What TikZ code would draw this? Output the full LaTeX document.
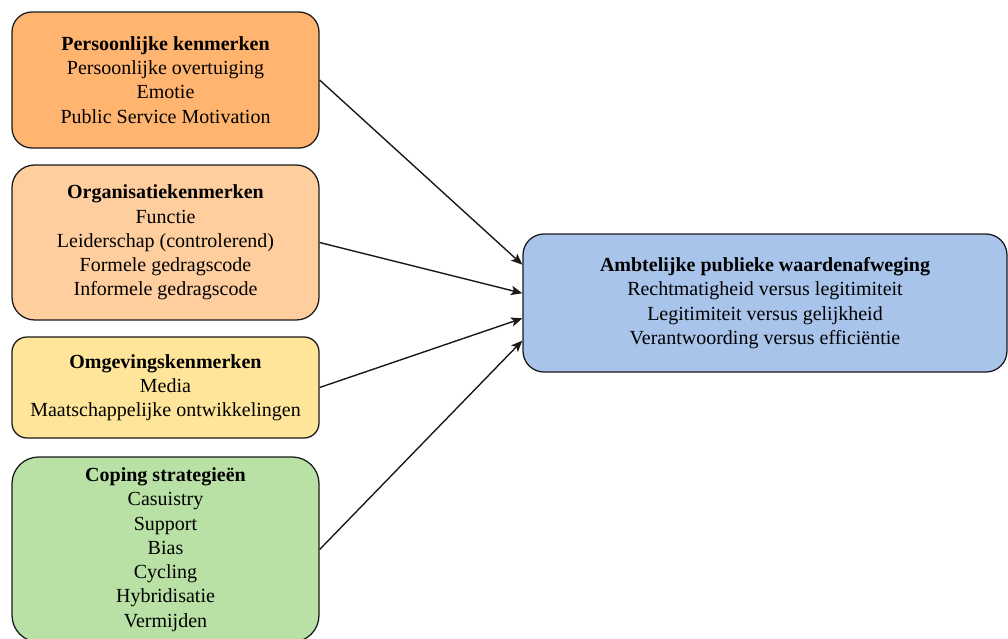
\documentclass[tikz,border=0pt]{standalone}
\usepackage{fontspec}
\setmainfont{Liberation Serif}
\usetikzlibrary{arrows.meta,calc}

\definecolor{persfill}{HTML}{FFB570}
\definecolor{orgfill}{HTML}{FFCE9F}
\definecolor{omgfill}{HTML}{FFE599}
\definecolor{copfill}{HTML}{B9E0A5}
\definecolor{ambfill}{HTML}{A9C4EB}
\definecolor{edge}{HTML}{1A1A1A}

\tikzset{
  factor/.style={draw=edge, line width=0.95pt, align=center, inner sep=0pt,
    minimum width=230.25pt, font=\fontsize{15}{18.2}\selectfont},
  link/.style={draw=edge, line width=1.05pt,
    -{Stealth[length=8.5pt, width=7pt, inset=2pt]}},
}

\begin{document}
\begin{tikzpicture}[x=0.75pt, y=-0.75pt]
\useasboundingbox (0,0) rectangle (1008,639);
\clip (0,0) rectangle (1008,639);

\node[factor, fill=persfill, minimum height=102pt, rounded corners=15pt]
  (pers) at (165.5,80)
  {\textbf{Persoonlijke kenmerken}\\Persoonlijke overtuiging\\Emotie\\Public Service Motivation};

\node[factor, fill=orgfill, minimum height=116.25pt, rounded corners=17pt]
  (org) at (165.5,242.5)
  {\textbf{Organisatiekenmerken}\\Functie\\Leiderschap (controlerend)\\Formele gedragscode\\Informele gedragscode};

\node[factor, fill=omgfill, minimum height=75.75pt, rounded corners=11.25pt]
  (omg) at (165.5,387.5)
  {\textbf{Omgevingskenmerken}\\Media\\Maatschappelijke ontwikkelingen};

\node[factor, fill=copfill, minimum height=138.75pt, rounded corners=20pt]
  (cop) at (165.5,549.5)
  {\textbf{Coping strategieën}\\Casuistry\\Support\\Bias\\Cycling\\Hybridisatie\\Vermijden};

\node[factor, fill=ambfill, minimum width=363pt, minimum height=103.5pt, rounded corners=15.75pt]
  (amb) at (765,303)
  {\textbf{Ambtelijke publieke waardenafweging}\\Rechtmatigheid versus legitimiteit\\Legitimiteit versus gelijkheid\\Verantwoording versus efficiëntie};

\draw[link] (pers.east) -- ($(amb.north west)!0.225!(amb.south west)$);
\draw[link] (org.east)  -- ($(amb.north west)!0.43!(amb.south west)$);
\draw[link] (omg.east)  -- ($(amb.north west)!0.61!(amb.south west)$);
\draw[link] (cop.east)  -- ($(amb.north west)!0.77!(amb.south west)$);
\end{tikzpicture}
\end{document}
